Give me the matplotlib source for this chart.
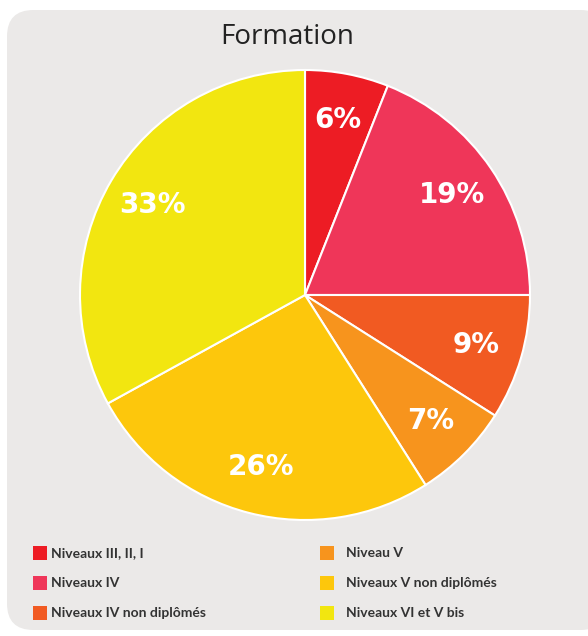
import matplotlib.pyplot as plt
from matplotlib.patches import FancyBboxPatch, Rectangle

# --- data ----------------------------------------------------------------------
labels = ["Niveaux III, II, I", "Niveaux IV", "Niveaux IV non diplômés",
          "Niveau V", "Niveaux V non diplômés", "Niveaux VI et V bis"]
values = [6, 19, 9, 7, 26, 33]
colors = ["#ed1c24", "#ef3659", "#f15a22", "#f7941d", "#fdc70c", "#f2e610"]
title = "Formation"

W, H = 588, 636
fig = plt.figure(figsize=(W / 100, H / 100), dpi=100)

# rounded grey panel behind everything
panel = FancyBboxPatch((7 / W, 6 / H), 600 / W, 620 / H,
                       boxstyle="round,pad=0,rounding_size=0.045",
                       transform=fig.transFigure, facecolor="#ebe9e8",
                       edgecolor="none", mutation_aspect=W / H, zorder=-5)
fig.patches.append(panel)

fig.text(287 / W, 1 - 37 / H, title, ha="center", va="center",
         fontsize=20, family="Open Sans", color="#222222")

# --- pie -----------------------------------------------------------------------
ax = fig.add_axes([80 / W, 1 - 520 / H, 450 / W, 450 / H], zorder=2)
ax.set_axis_off()
wedges, _, autotexts = ax.pie(values, colors=colors, startangle=90, counterclock=False,
                              autopct="%d%%", pctdistance=0.79, radius=1,
                              wedgeprops=dict(edgecolor="white", linewidth=1.5))
for t in autotexts:
    t.set_color("white")
    t.set_fontsize(20)
    t.set_fontweight("bold")
    t.set_family("DejaVu Sans")
ax.set_xlim(-1, 1)
ax.set_ylim(-1, 1)
ax.set_aspect("equal")

# --- legend (two columns) --------------------------------------------------------
for i, (lab, col) in enumerate(zip(labels, colors)):
    cx = 33 if i < 3 else 320
    tx = 51 if i < 3 else 346
    cy = 553 + 30 * (i % 3)
    fig.patches.append(Rectangle((cx / W, 1 - (cy + 7) / H), 14 / W, 14 / H,
                                 transform=fig.transFigure, facecolor=col,
                                 edgecolor="none"))
    fig.text(tx / W, 1 - cy / H, lab, ha="left", va="center", fontsize=10,
             family="Lato", fontweight="bold", color="#333333")

fig.savefig("out.png", dpi=100, facecolor="white")
